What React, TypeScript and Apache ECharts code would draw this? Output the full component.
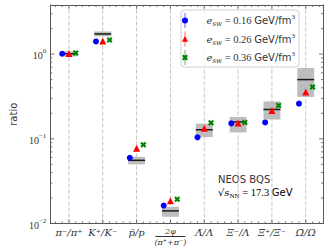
import React, { useEffect, useRef } from 'react';
import * as echarts from 'echarts';

// ---------- data ----------
const categories = ['π⁻/π⁺', 'K⁺/K⁻', 'p̄/p', '2φ/(π⁺+π⁻)', 'Λ̄/Λ', 'Ξ⁻/Λ', 'Ξ̄⁺/Ξ⁻', 'Ω̄/Ω'];
const seriesNames = ['0.16', '0.26', '0.36'];
const ratiosE016 = [1.01, 1.41, 0.0596, 0.0163, 0.104, 0.152, 0.156, 0.26];
const ratiosE026 = [1.02, 1.43, 0.0776, 0.0185, 0.133, 0.154, 0.216, 0.357];
const ratiosE036 = [1.03, 1.465, 0.0849, 0.0193, 0.155, 0.156, 0.247, 0.409];
const expValue = [1.01, 1.73, 0.0557, 0.0141, 0.128, 0.158, 0.222, 0.5];
const expLow = [0.94, 1.62, 0.0499, 0.012, 0.105, 0.119, 0.169, 0.312];
const expHigh = [1.08, 1.85, 0.0612, 0.0158, 0.151, 0.181, 0.276, 0.687];
const yMajorTicks = [0.01, 0.1, 1];

// ---------- layout constants ----------
const X_MIN = -0.55;
const X_MAX = 7.51;
const Y_MIN = 0.01;
const Y_MAX = 3.8;
const OFFSETS = [-0.2, 0, 0.2];
const COLORS = ['#0000ff', '#ff0000', '#008000'];
const AXIS_COLOR = '#555';

const X_PATH = 'path://M1 0L2 1L3 0L4 1L3 2L4 3L3 4L2 3L1 4L0 3L1 2L0 1Z';
const LEG_ICONS = [
  'path://M3 4.5A3 3 0 1 1 3 10.5A3 3 0 1 1 3 4.5Z M2.7 0H3.3V15H2.7Z',
  'path://M3 4.3L6 10.3L0 10.3Z M2.7 0H3.3V15H2.7Z',
  'path://M1.5 4.5L3 6L4.5 4.5L6 6L4.5 7.5L6 9L4.5 10.5L3 9L1.5 10.5L0 9L1.5 7.5L0 6Z M2.7 0H3.3V15H2.7Z',
];

export default function App() {
  const ref = useRef<HTMLDivElement>(null);
  useEffect(() => {
    if (!ref.current) return;
    const chart = echarts.init(ref.current, null, { renderer: 'svg' });

    const yMinor: number[] = [];
    for (let e = -2; e <= 0; e++) {
      for (let k = 2; k <= 9; k++) {
        const v = k * Math.pow(10, e);
        if (v <= Y_MAX) yMinor.push(v);
      }
    }
    const xMinor: number[] = [];
    const xMajor: number[] = categories.map((_, i) => i);
    for (let k = Math.ceil(X_MIN / 0.2); k * 0.2 <= X_MAX; k++) {
      const v = k * 0.2;
      if (Math.abs(v - Math.round(v)) > 1e-6) xMinor.push(v);
    }

    const seriesData = [ratiosE016, ratiosE026, ratiosE036];
    const symbols = ['circle', 'triangle', X_PATH];
    const sizes = [6, 7, 6];

    const scatterSeries = seriesData.map((arr, s) => ({
      type: 'scatter',
      name: seriesNames[s],
      data: arr.map((v, i) => [i + OFFSETS[s], v]),
      symbol: symbols[s],
      symbolSize: sizes[s],
      itemStyle: { color: COLORS[s], opacity: 1 },
      z: 5,
    }));

    const expData = categories.map((_, i) => [i, expLow[i], expHigh[i], expValue[i]]);

    const tickLine = (x1: number, y1: number, x2: number, y2: number) => ({
      type: 'line',
      shape: { x1, y1, x2, y2 },
      style: { stroke: AXIS_COLOR, lineWidth: 0.8 },
      silent: true,
    });

    const serif = 'Liberation Serif, DejaVu Serif, serif';
    const mathSerif = 'DejaVu Serif, serif';
    const axisLine = { show: true, onZero: false, lineStyle: { color: AXIS_COLOR, width: 1 } };

    const option: any = {
      animation: false,
      grid: { left: 40, top: 5, width: 283, height: 218.5, containLabel: false },
      xAxis: [
        {
          type: 'value',
          min: X_MIN,
          max: X_MAX,
          position: 'bottom',
          axisLine,
          axisTick: { show: false },
          splitLine: { show: false },
          axisLabel: {
            show: true,
            customValues: xMajor,
            margin: 3,
            color: '#333',
            fontFamily: mathSerif,
            fontStyle: 'italic',
            fontSize: 10,
            lineHeight: 12,
            formatter: (v: number) => {
              const idx = Math.round(v);
              const lab = categories[idx];
              if (lab === undefined) return '';
              if (lab.includes('/(')) {
                const [n, d] = lab.split('/');
                return `{n|${n}}\n{bar| }\n{d|${d}}`;
              }
              return lab;
            },
            rich: {
              n: { fontFamily: mathSerif, fontStyle: 'italic', fontSize: 8, lineHeight: 9, color: '#333' },
              bar: { width: 30, height: 1, lineHeight: 2, fontSize: 1, backgroundColor: '#333' },
              d: { fontFamily: mathSerif, fontStyle: 'italic', fontSize: 8, lineHeight: 10, color: '#333' },
            },
          },
        },
        {
          type: 'value',
          min: X_MIN,
          max: X_MAX,
          position: 'top',
          axisLine,
          axisTick: { show: false },
          axisLabel: { show: false },
          splitLine: { show: false },
        },
      ],
      yAxis: [
        {
          type: 'log',
          logBase: 10,
          min: Y_MIN,
          max: Y_MAX,
          position: 'left',
          name: 'ratio',
          nameLocation: 'middle',
          nameGap: 27,
          nameTextStyle: { fontFamily: 'DejaVu Sans', fontSize: 10, color: '#333' },
          axisLine,
          axisTick: { show: false },
          splitLine: { show: false },
          axisLabel: {
            margin: 4,
            color: '#333',
            formatter: (v: number) => {
              const lg = Math.log10(v);
              const e = Math.round(lg);
              if (Math.abs(lg - e) > 1e-6) return '';
              if (!yMajorTicks.some((t) => Math.abs(Math.log10(t) - e) < 1e-6)) return '';
              const sup = e < 0 ? '−' + Math.abs(e) : String(e);
              return `{b|10}{s|${sup}}`;
            },
            rich: {
              b: { fontFamily: serif, fontSize: 10, lineHeight: 13, color: '#333', verticalAlign: 'bottom' },
              s: { fontFamily: serif, fontSize: 7, lineHeight: 8, color: '#333', verticalAlign: 'top' },
            },
          },
        },
        {
          type: 'log',
          logBase: 10,
          min: Y_MIN,
          max: Y_MAX,
          position: 'right',
          axisLine,
          axisTick: { show: false },
          axisLabel: { show: false },
          splitLine: { show: false },
        },
      ],
      legend: {
        left: 181,
        top: 10,
        orient: 'vertical',
        itemWidth: 33,
        itemHeight: 15,
        itemGap: 3.5,
        padding: [3, 4, 2, 1],
        borderColor: '#d0d0d0',
        borderWidth: 1,
        borderRadius: 3,
        backgroundColor: 'rgba(255,255,255,0.85)',
        data: seriesNames.map((n, i) => ({ name: n, icon: LEG_ICONS[i] })),
        formatter: (name: string) => `{e|e}{sub|sw}{t| = ${name} }{g|GeV/fm}{sup|3}`,
        textStyle: {
          color: '#333',
          rich: {
            e: { fontFamily: mathSerif, fontStyle: 'italic', fontSize: 10, lineHeight: 14, color: '#333' },
            sub: { fontFamily: mathSerif, fontStyle: 'italic', fontSize: 7, lineHeight: 8, verticalAlign: 'bottom', color: '#333' },
            t: { fontFamily: serif, fontSize: 10.5, lineHeight: 14, color: '#333' },
            g: { fontFamily: 'DejaVu Sans', fontSize: 10, lineHeight: 14, color: '#333' },
            sup: { fontFamily: serif, fontSize: 7, lineHeight: 8, verticalAlign: 'top', color: '#333' },
          },
        },
      },
      graphic: [
        {
          type: 'text',
          left: 218,
          top: 174,
          silent: true,
          style: { text: 'NEOS BQS', font: '10px DejaVu Sans', fill: '#333' },
        },
        {
          type: 'text',
          left: 218,
          top: 187,
          silent: true,
          style: {
            text: '{r|√}{s|s}{sub|NN}{t| = 17.3 }{g|GeV}',
            rich: {
              r: { fontFamily: mathSerif, fontSize: 10, lineHeight: 14, color: '#333' },
              s: { fontFamily: mathSerif, fontStyle: 'italic', fontSize: 10, lineHeight: 14, color: '#333' },
              sub: { fontFamily: serif, fontSize: 7, lineHeight: 8, verticalAlign: 'bottom', color: '#333' },
              t: { fontFamily: serif, fontSize: 10.5, lineHeight: 14, color: '#333' },
              g: { fontFamily: 'DejaVu Sans', fontSize: 10, lineHeight: 14, color: '#333' },
            },
          },
        },
      ],
      series: [
        {
          type: 'custom',
          name: 'axes-decor',
          xAxisIndex: 0,
          yAxisIndex: 0,
          data: [[0, 1]],
          encode: { x: 0, y: 1 },
          clip: false,
          silent: true,
          z: 1,
          renderItem: (params: any, api: any) => {
            const children: any[] = [];
            xMajor.forEach((x) => {
              const b = api.coord([x, Y_MIN]);
              const t = api.coord([x, Y_MAX]);
              children.push({
                type: 'line',
                shape: { x1: b[0], y1: b[1], x2: t[0], y2: t[1] },
                style: { stroke: '#c4c4c4', lineWidth: 1, lineDash: [4, 2] },
              });
            });
            yMajorTicks.forEach((v) => {
              const l = api.coord([X_MIN, v]);
              const r = api.coord([X_MAX, v]);
              children.push(tickLine(l[0], l[1], l[0] + 4, l[1]));
              children.push(tickLine(r[0] - 4, r[1], r[0], r[1]));
            });
            yMinor.forEach((v) => {
              const l = api.coord([X_MIN, v]);
              const r = api.coord([X_MAX, v]);
              children.push(tickLine(l[0], l[1], l[0] + 2, l[1]));
              children.push(tickLine(r[0] - 2, r[1], r[0], r[1]));
            });
            xMajor.forEach((x) => {
              const b = api.coord([x, Y_MIN]);
              const t = api.coord([x, Y_MAX]);
              children.push(tickLine(b[0], b[1], b[0], b[1] - 4));
              children.push(tickLine(t[0], t[1], t[0], t[1] + 4));
            });
            xMinor.forEach((x) => {
              const b = api.coord([x, Y_MIN]);
              const t = api.coord([x, Y_MAX]);
              children.push(tickLine(b[0], b[1], b[0], b[1] - 2));
              children.push(tickLine(t[0], t[1], t[0], t[1] + 2));
            });
            return { type: 'group', children };
          },
        },
        {
          type: 'custom',
          name: 'experiment',
          xAxisIndex: 0,
          yAxisIndex: 0,
          data: expData,
          encode: { x: 0, y: 3 },
          z: 2,
          silent: true,
          renderItem: (params: any, api: any) => {
            const i = api.value(0);
            const lo = api.value(1);
            const hi = api.value(2);
            const v = api.value(3);
            const p1 = api.coord([i - 0.25, hi]);
            const p2 = api.coord([i + 0.25, lo]);
            const q1 = api.coord([i - 0.25, v]);
            const q2 = api.coord([i + 0.25, v]);
            return {
              type: 'group',
              children: [
                {
                  type: 'rect',
                  shape: { x: p1[0], y: p1[1], width: p2[0] - p1[0], height: p2[1] - p1[1] },
                  style: { fill: '#bdbdbd' },
                },
                {
                  type: 'line',
                  shape: { x1: q1[0], y1: q1[1], x2: q2[0], y2: q2[1] },
                  style: { stroke: '#1a1a1a', lineWidth: 1.5 },
                },
              ],
            };
          },
        },
        ...scatterSeries,
      ],
    };

    chart.setOption(option);
    return () => chart.dispose();
  }, []);

  return (
    <div
      ref={ref}
      style={{ position: 'absolute', left: 0, top: 0, width: 332, height: 249, background: '#fff' }}
    />
  );
}
